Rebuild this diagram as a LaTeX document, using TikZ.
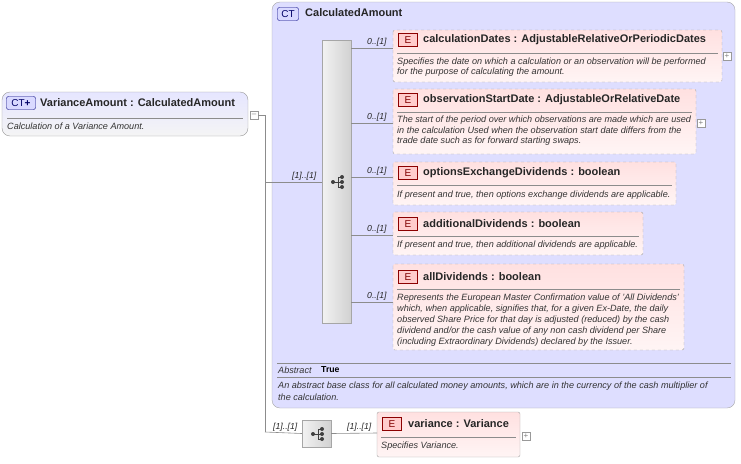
\documentclass[tikz,border=0pt]{standalone}
\usepackage{fontspec}
\setmainfont{Liberation Sans}
\begin{document}
\begin{tikzpicture}[x=1pt,y=-1pt,
  desc/.style={anchor=west,inner sep=0pt,font=\fontsize{9.1}{10}\selectfont\itshape,text=black!80},
  ttl/.style={anchor=west,inner sep=0pt,font=\fontsize{11}{12}\selectfont\bfseries,text=black!85},
  card/.style={anchor=west,inner sep=0pt,font=\fontsize{8.7}{10}\selectfont\itshape,text=black!85},
  ebox/.style={draw=black!35,dashed,rounded corners=2,top color=red!12,bottom color=red!4},
  sbox/.style={draw=black!35,rounded corners=2,top color=red!12,bottom color=red!4},
  ebadge/.style={draw=red!55!black,fill=red!20,inner sep=0pt,minimum width=19pt,minimum height=13pt,font=\fontsize{10}{11}\selectfont,text=red!50!black},
  exp/.style={draw=black!40,fill=white,minimum size=8pt,inner sep=0pt,font=\fontsize{8}{8}\selectfont,text=black!50},
  conn/.style={draw=black!45,line width=0.6pt},
  seqbox/.style={draw=black!35,left color=black!5,right color=black!18},
  ico/.pic={\draw[black!75,line width=0.9pt] (-5,0)--(0,0) (0,-5)--(0,5) (0,-5)--(4,-5) (0,0)--(4,0) (0,5)--(4,5);
    \fill[black!75] (-5,0) circle (2) (4,-5) circle(2) (4,0) circle(2) (4,5) circle(2);}
]
\useasboundingbox (0,0) rectangle (741,463);
% left box
\draw[draw=black!40,rounded corners=8,top color=blue!10,bottom color=black!4] (2,92) rectangle (248,136);
\node[draw=blue!50!black,rounded corners=2,fill=blue!15,inner sep=1pt,minimum width=29pt,minimum height=13pt,font=\fontsize{10}{11}\selectfont,text=blue!40!black] (ctp) at (21,103) {CT\textbf{+}};
\node[ttl] (va) at (40,103) {VarianceAmount : CalculatedAmount};
\draw[black!45] (7,118) -- (243,118);
\node[desc] (vad) at (7,126) {Calculation of a Variance Amount.};
\node[exp] (e0) at (254,115) {--};
% big CT box
\draw[draw=black!35,rounded corners=8,fill=blue!13] (272,2) rectangle (735,408);
\node[draw=blue!50!black,rounded corners=2,fill=blue!15,inner sep=1pt,minimum width=21pt,minimum height=13pt,font=\fontsize{10}{11}\selectfont,text=blue!40!black] (ct) at (288,14) {CT};
\node[ttl] (cat) at (305,13) {CalculatedAmount};
% connectors
\coordinate (j0) at (265,115);
\coordinate (j1) at (265,432);
\coordinate (j2) at (265,182);
\draw[conn] (e0.east) -- (j0) -- (j1);
\draw[conn] (j2) -- (322,182);
\node[card] at (292,176) {[1]..[1]};
% sequence
\node[seqbox,minimum width=29pt,minimum height=283pt,inner sep=0pt,draw] (seq) at (336.5,181.5) {};
\pic at (338,182) {ico};
% elements
\foreach \y/\x in {48/0,123/1,177/2,235/3,302/4}{
  \draw[conn] (351,\y) -- (393,\y);
  \node[card] at (367,{\y-6}) {0..[1]};
}
% 1
\draw[ebox] (393,30) rectangle (722,82);
\node[ebadge] at (408,40) {E};
\node[ttl] at (423,40) {calculationDates : AdjustableRelativeOrPeriodicDates};
\draw[black!45] (397,53) -- (718,53);
\node[desc] at (397,62) {Specifies the date on which a calculation or an observation will be performed};
\node[desc] at (397,72) {for the purpose of calculating the amount.};
\node[exp] at (727,56) {+};
% 2
\draw[ebox] (393,89) rectangle (696,154);
\node[ebadge] at (408,100) {E};
\node[ttl] at (423,100) {observationStartDate : AdjustableOrRelativeDate};
\draw[black!45] (397,112) -- (692,112);
\node[desc] at (397,120) {The start of the period over which observations are made which are used};
\node[desc] at (397,130) {in the calculation Used when the observation start date differs from the};
\node[desc] at (397,141) {trade date such as for forward starting swaps.};
\node[exp] at (701,123) {+};
% 3
\draw[ebox] (393,162) rectangle (676,205);
\node[ebadge] at (408,173) {E};
\node[ttl] at (423,173) {optionsExchangeDividends : boolean};
\draw[black!45] (397,185) -- (672,185);
\node[desc] at (397,195) {If present and true, then options exchange dividends are applicable.};
% 4
\draw[ebox] (393,212) rectangle (643,255);
\node[ebadge] at (408,224) {E};
\node[ttl] at (423,224) {additionalDividends : boolean};
\draw[black!45] (397,236) -- (639,236);
\node[desc] at (397,245) {If present and true, then additional dividends are applicable.};
% 5
\draw[ebox] (393,264) rectangle (684,350);
\node[ebadge] at (408,277) {E};
\node[ttl] at (423,277) {allDividends : boolean};
\draw[black!45] (397,289) -- (680,289);
\node[desc] at (397,298) {Represents the European Master Confirmation value of 'All Dividends'};
\node[desc] at (397,309) {which, when applicable, signifies that, for a given Ex-Date, the daily};
\node[desc] at (397,320) {observed Share Price for that day is adjusted (reduced) by the cash};
\node[desc] at (397,331) {dividend and/or the cash value of any non cash dividend per Share};
\node[desc] at (397,342) {(including Extraordinary Dividends) declared by the Issuer.};
% abstract
\draw[black!45] (277,363) -- (731,363);
\node[desc] at (278,370) {Abstract};
\node[anchor=west,inner sep=0pt,font=\fontsize{8.7}{10}\selectfont\bfseries] at (321,370) {True};
\draw[black!45] (277,377) -- (731,377);
\node[desc] at (278,386) {An abstract base class for all calculated money amounts, which are in the currency of the cash multiplier of};
\node[desc] at (278,397) {the calculation.};
% bottom
\node[seqbox,minimum width=29pt,minimum height=27pt,inner sep=0pt] (seq2) at (316.5,433.5) {};
\draw[conn] (j1) -- (seq2.west);
\node[card] at (273,427) {[1]..[1]};
\pic at (318,434) {ico};
\draw[sbox] (377,412) rectangle (520,457);
\draw[conn] (seq2.east) -- (377,433);
\node[card] at (347,427) {[1]..[1]};
\node[ebadge] at (392,424) {E};
\node[ttl] at (408,424) {variance : Variance};
\draw[black!45] (381,437) -- (516,437);
\node[desc] at (381,446) {Specifies Variance.};
\node[exp] at (526,436) {+};
\end{tikzpicture}
\end{document}
